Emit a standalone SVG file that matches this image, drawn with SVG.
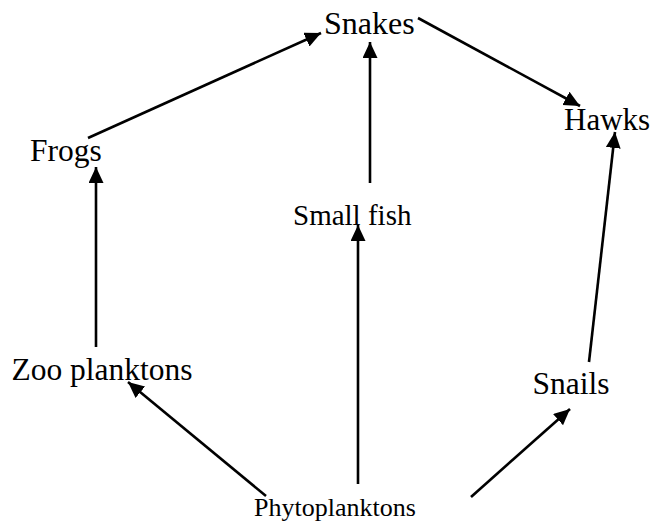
<svg xmlns="http://www.w3.org/2000/svg" width="653" height="521" viewBox="0 0 653 521">
<style>
.lbl{font-family:"Liberation Serif","Times New Roman",serif;fill:#000}
.edge{stroke:#000;stroke-width:2.6;fill:none;marker-end:url(#ah)}
</style>
<defs>
<marker id="ah" markerUnits="userSpaceOnUse" markerWidth="17" markerHeight="16" refX="16" refY="7.5" orient="auto">
<path d="M0,0 L16,7.5 L0,15 z" fill="#000"/>
</marker>
</defs>
<rect width="653" height="521" fill="#fff"/>
<g id="connectors">
<line class="edge" x1="88" y1="138" x2="321" y2="33"/>
<line class="edge" x1="418" y1="18" x2="580" y2="106"/>
<line class="edge" x1="370" y1="183" x2="370" y2="42"/>
<line class="edge" x1="96" y1="347" x2="96" y2="167"/>
<line class="edge" x1="358" y1="484" x2="358" y2="225"/>
<line class="edge" x1="589" y1="362" x2="615" y2="132"/>
<line class="edge" x1="266" y1="496" x2="128" y2="382"/>
<line class="edge" x1="471" y1="497" x2="570" y2="409"/>
</g>
<g id="snakes"><text class="lbl" x="324" y="34" font-size="32">Snakes</text></g>
<g id="frogs"><text class="lbl" x="30" y="160.5" font-size="31.5">Frogs</text></g>
<g id="hawks"><text class="lbl" x="564" y="130" font-size="31">Hawks</text></g>
<g id="smallfish"><text class="lbl" x="293" y="225" font-size="29">Small fish</text></g>
<g id="zooplanktons"><text class="lbl" x="11.5" y="379.5" font-size="31.5">Zoo planktons</text></g>
<g id="snails"><text class="lbl" x="532.5" y="394" font-size="31.5">Snails</text></g>
<g id="phytoplanktons"><text class="lbl" x="254" y="516" font-size="26">Phytoplanktons</text></g>
</svg>
